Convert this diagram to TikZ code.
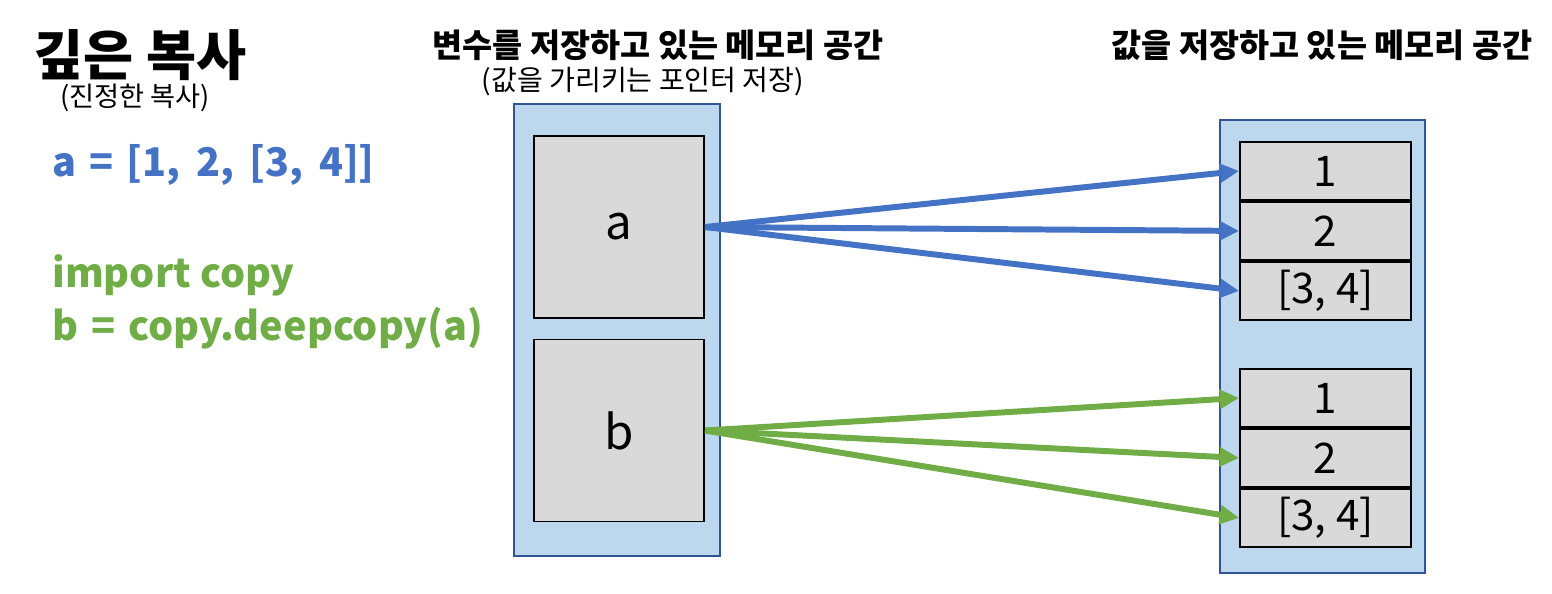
\documentclass[tikz,border=0pt]{standalone}
\usepackage{fontspec}
\setmainfont{Noto Sans CJK KR}
\usetikzlibrary{arrows.meta}

\definecolor{areafill}{HTML}{BDD7EE}
\definecolor{arealine}{HTML}{2F5597}
\definecolor{cellfill}{HTML}{D9D9D9}
\definecolor{refblue}{HTML}{4472C4}
\definecolor{refgreen}{HTML}{70AD47}

\tikzset{
  memarea/.style={draw=arealine, fill=areafill, line width=1.1pt, inner sep=0pt},
  varbox/.style={draw=black, fill=cellfill, line width=1.1pt, minimum width=3.4cm, minimum height=3.64cm, inner sep=0pt, font=\fontsize{27}{30}\selectfont},
  cell/.style={draw=black, fill=cellfill, line width=1.1pt, minimum width=3.42cm, minimum height=1.16cm, inner sep=0pt, font=\fontsize{24}{28}\selectfont},
  ptr/.style={line width=3.4pt, -{Triangle[length=11pt,width=10.5pt]}},
  heading/.style={font=\bfseries\fontsize{18.6}{22}\selectfont},
  code/.style={anchor=west, inner sep=0pt, font=\bfseries\fontsize{22.5}{26}\selectfont}
}

\begin{document}
\begin{tikzpicture}[x=0.02cm, y=-0.02cm]
  \useasboundingbox (0, 0) rectangle (1552, 593);

  % titles
  \node[font=\bfseries\fontsize{31}{35}\selectfont] (title) at (140, 55) {깊은 복사};
  \node[font=\fontsize{15.5}{18}\selectfont] (subtitle) at (135, 98) {(진정한 복사)};

  \node[heading] (varhead) at (658, 45) {변수를 저장하고 있는 메모리 공간};
  \node[font=\fontsize{16}{19}\selectfont] (varsub) at (643, 82) {(값을 가리키는 포인터 저장)};
  \node[heading] (valhead) at (1322, 45) {값을 저장하고 있는 메모리 공간};

  % code
  \node[code, text=refblue] (code1) at (52, 165) {a\,\,=\,\,[1,\, 2,\, [3,\, 4]]};
  \node[code, text=refgreen] (code2) at (52, 275) {import copy};
  \node[code, text=refgreen] (code3) at (52, 328) {b\,\,=\,\,copy.deepcopy(a)};

  % memory areas
  \node[memarea, minimum width=4.12cm, minimum height=9.04cm] (vararea) at (617, 330) {};
  \node[memarea, minimum width=4.1cm, minimum height=9.06cm] (valarea) at (1322.5, 346.5) {};

  \node[varbox] (a) at (619, 227) {a};
  \node[varbox] (b) at (619, 430.5) {b};

  % values of a
  \node[cell] (a1) at (1325.5, 171) {1};
  \node[cell, anchor=north] (a2) at (a1.south) {2};
  \node[cell, anchor=north] (a3) at (a2.south) {[3, 4]};

  % values of b
  \node[cell] (b1) at (1325.5, 398) {1};
  \node[cell, anchor=north] (b2) at (b1.south) {2};
  \node[cell, anchor=north] (b3) at (b2.south) {[3, 4]};

  \draw[ptr, refblue] (a.east) -- (a1.west);
  \draw[ptr, refblue] (a.east) -- (a2.west);
  \draw[ptr, refblue] (a.east) -- (a3.west);

  \draw[ptr, refgreen] (b.east) -- (b1.west);
  \draw[ptr, refgreen] (b.east) -- (b2.west);
  \draw[ptr, refgreen] (b.east) -- (b3.west);

\end{tikzpicture}
\end{document}
